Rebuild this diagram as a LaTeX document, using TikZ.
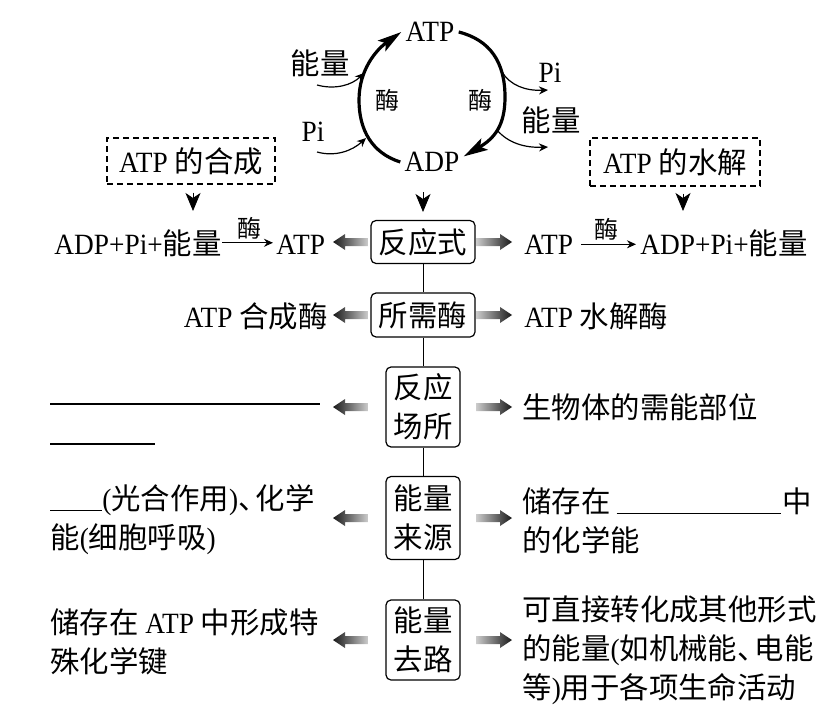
\documentclass[tikz,border=0pt]{standalone}
\usepackage{fontspec}
\setmainfont{Liberation Serif}[FakeStretch=0.93]
\newfontfamily\cjk{Noto Sans CJK SC}
\usetikzlibrary{arrows.meta}
\newcommand{\zh}[1]{{\cjk #1}}
\newcommand{\dun}{\zh{、}\hspace{-6pt}}
\newcommand{\bodyfont}{\fontsize{14.7}{19.5}\selectfont}
\newcommand{\smallfont}{\fontsize{12}{14}\selectfont}
\begin{document}
\begin{tikzpicture}[x=0.5pt,y=-0.5pt,
  txt/.style={inner sep=0pt, font=\bodyfont},
  zhtxt/.style={inner sep=0pt, font=\bodyfont\cjk},
  zhsmall/.style={inner sep=0pt, font=\smallfont\cjk},
  bx/.style={draw, rounded corners=2.5pt, line width=0.6pt, align=center, inner sep=0pt, font=\bodyfont\cjk},
  dbx/.style={draw, dash pattern=on 3pt off 2pt, line width=0.55pt, inner sep=0pt, font=\bodyfont},
  cyc/.style={line width=1.6pt, -{Stealth[length=12pt,width=6.5pt,inset=2.5pt]}},
  thin/.style={line width=0.6pt, -{Stealth[length=4.5pt,width=4pt]}},
  dnarr/.style={line width=0.4pt, -{Stealth[length=9pt,width=7.5pt,inset=2.5pt]}},
  fatl/.style={left color=black!90, right color=black!20},
  fatr/.style={left color=black!20, right color=black!90}]
\useasboundingbox (0,0) rectangle (829,717);

% ATP-ADP cycle
\node[txt, inner sep=2pt] (atp) at (430,32) {ATP};
\node[txt, inner sep=2pt] (adp) at (432,162) {ADP};
\node[zhtxt] (engin) at (320,63) {能量};
\node[txt] (piin) at (313,132) {Pi};
\node[txt] (piout) at (550,73) {Pi};
\node[zhtxt] (engout) at (551,120) {能量};
\node[zhsmall] (enzl) at (387,100) {酶};
\node[zhsmall] (enzr) at (480,100) {酶};
\draw[cyc] (adp.west) .. controls (372,153) and (359,130) .. (359,100) .. controls (359,70) and (376,50) .. (atp.west);
\draw[cyc] (atp.east) .. controls (490,40) and (505,62) .. (505,97) .. controls (505,125) and (495,138) .. (adp.10);
\coordinate (s1) at (317,85);  \coordinate (e1) at (364,73);
\coordinate (s2) at (317,152); \coordinate (e2) at (366,138);
\coordinate (s3) at (502,72);  \coordinate (e3) at (548,90);
\coordinate (s4) at (497,130); \coordinate (e4) at (548,147);
\draw[thin] (s1) .. controls (335,90) and (352,85) .. (e1);
\draw[thin] (s2) .. controls (335,157) and (352,151) .. (e2);
\draw[thin] (s3) .. controls (510,85) and (525,91) .. (e3);
\draw[thin] (s4) .. controls (508,143) and (525,148) .. (e4);

\node[dbx, minimum width=84pt, minimum height=23pt] (db1) at (191,161) {ATP \zh{的合成}};
\node[dbx, minimum width=85pt, minimum height=24pt] (db2) at (675,162) {ATP \zh{的水解}};
\coordinate (t1) at (193,211);
\coordinate (t2) at (423,212);
\coordinate (t3) at (683,211);
\draw[dnarr, shorten <=4pt] (db1.south -| t1) -- (t1);
\draw[dnarr, shorten <=8pt] (adp.south -| t2) -- (t2);
\draw[dnarr, shorten <=3.5pt] (db2.south -| t3) -- (t3);

% central column
\node[bx, minimum width=52pt, minimum height=21.5pt] (bx1) at (423,242) {反应式};
\node[bx, minimum width=52pt, minimum height=22pt] (bx2) at (423,315) {所需酶};
\node[bx, minimum width=37pt, minimum height=40pt] (bx3) at (423,407) {反应\\场所};
\node[bx, minimum width=37pt, minimum height=41.5pt] (bx4) at (423,518) {能量\\来源};
\node[bx, minimum width=37pt, minimum height=40pt] (bx5) at (423,640) {能量\\去路};
\draw[line width=0.5pt] (bx1.south) -- (bx2.north);
\draw[line width=0.5pt] (bx2.south) -- (bx3.north);
\draw[line width=0.5pt] (bx3.south) -- (bx4.north);
\draw[line width=0.5pt] (bx4.south) -- (bx5.north);

\coordinate (lx) at (333,0);
\coordinate (rx) at (512,0);
\foreach \r in {1,...,5}{
  \coordinate (la\r) at (bx\r.center -| lx);
  \coordinate (ra\r) at (bx\r.center -| rx);
  \shade[fatl] (la\r) -- ++(12,-8) -- ++(0,4) -- ++(23,0) -- ++(0,8) -- ++(-23,0) -- ++(0,4) -- cycle;
  \shade[fatr] (ra\r) -- ++(-12,-8) -- ++(0,4) -- ++(-24,0) -- ++(0,8) -- ++(24,0) -- ++(0,4) -- cycle;
}

% rows
\node[txt, anchor=base east] (synl) at (222,254) {ADP+Pi+\zh{能量}};
\node[txt, anchor=base west] (synr) at (276,254) {ATP};
\draw[thin, shorten >=1.5pt] (synl.east) -- node[zhsmall, above=1.5pt] (enz1) {酶} (synl.east -| synr.west);
\node[txt, anchor=base west] (hydl) at (524,254) {ATP};
\node[txt, anchor=base west] (hydr) at (640,254) {ADP+Pi+\zh{能量}};
\draw[thin, shorten <=4pt, shorten >=2pt] (hydl.east) -- node[zhsmall, above=1.5pt] (enz2) {酶} (hydl.east -| hydr.west);

\node[txt, anchor=base east] (synz) at (328,327) {ATP \zh{合成酶}};
\node[txt, anchor=base west] (hydz) at (524,327) {ATP \zh{水解酶}};

\coordinate (b1) at (50,404);  \coordinate (b2) at (320,404);
\coordinate (b3) at (50,444);  \coordinate (b4) at (155,444);
\draw[line width=0.6pt] (b1) -- (b2);
\draw[line width=0.6pt] (b3) -- (b4);
\node[zhtxt, anchor=base west] (site) at (522,418) {生物体的需能部位};

\node[txt, anchor=west, align=left] (srcl) at (50,520) {\rule[-0.5pt]{26pt}{0.6pt}(\zh{光合作用})\dun\zh{化学}\\\zh{能}(\zh{细胞呼吸})};
\node[txt, anchor=west, align=left] (srcr) at (522,521) {\zh{储存在}\hspace{3pt}\rule[-0.5pt]{82pt}{0.6pt}\hspace{1pt}\zh{中}\\\zh{的化学能}};

\node[txt, anchor=west, align=left] (usel) at (50,642) {\zh{储存在} ATP \zh{中形成特}\\\zh{殊化学键}};
\node[txt, anchor=west, align=left] (user) at (522,650) {\zh{可直接转化成其他形式}\\\zh{的能量}(\zh{如机械能}\dun\zh{电能}\\\zh{等})\zh{用于各项生命活动}};
\end{tikzpicture}
\end{document}
